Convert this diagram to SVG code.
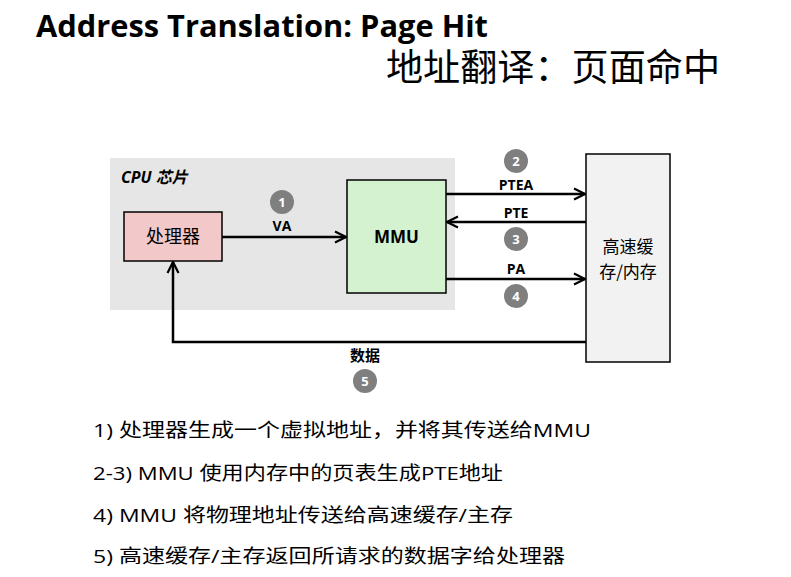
<svg xmlns="http://www.w3.org/2000/svg" width="791" height="577" viewBox="0 0 791 577">
<style>
.t{font-family:"Open Sans","Noto Sans CJK SC",sans-serif;}
.cj{font-family:"Noto Sans CJK SC",sans-serif;}
.box{stroke:#000;stroke-width:1.5;}
.ln{stroke:#000;stroke-width:2.5;fill:none;}
.num{fill:#7f7f7f;}
.nt{font-family:"Open Sans",sans-serif;font-weight:bold;font-size:13px;fill:#fff;text-anchor:middle;}
.lbl{font-family:"Open Sans",sans-serif;font-weight:bold;font-size:14px;fill:#000;text-anchor:middle;}
.b{font-family:"Open Sans","Noto Sans CJK SC",sans-serif;font-size:19px;fill:#000;}
</style>
<defs>
<marker id="ah" viewBox="0 0 10 10" refX="9" refY="5" markerWidth="5.5" markerHeight="5.5" orient="auto" markerUnits="strokeWidth">
<path d="M1,1 L9,5 L1,9" fill="none" stroke="#000" stroke-width="1.6"/>
</marker>
</defs>
<rect width="791" height="577" fill="#fff"/>
<text class="t" x="36" y="37" font-size="31" font-weight="bold" textLength="452" lengthAdjust="spacingAndGlyphs">Address Translation: Page Hit</text>
<text class="cj" x="386" y="81" font-size="37" textLength="334" lengthAdjust="spacingAndGlyphs">地址翻译：页面命中</text>
<g id="cpu-chip">
<rect x="110" y="158" width="345" height="152" fill="#e6e6e6"/>
<text class="t" x="121" y="183" font-size="16" font-weight="bold" font-style="italic">CPU 芯片</text>
</g>
<g id="processor">
<rect class="box" x="124" y="212" width="98" height="49" fill="#f2c8c8"/>
<text class="cj" x="173" y="243" font-size="18" text-anchor="middle">处理器</text>
</g>
<g id="mmu">
<rect class="box" x="347" y="180" width="99" height="113" fill="#d5f2d0"/>
<text class="lbl" x="396.5" y="243" style="font-size:17px">MMU</text>
</g>
<g id="memory">
<rect class="box" x="586" y="154" width="84" height="208" fill="#f2f2f2"/>
<text class="cj" x="628" y="253" font-size="17" text-anchor="middle">高速缓</text>
<text class="cj" x="628" y="278" font-size="17" text-anchor="middle">存/内存</text>
</g>
<g id="connectors">
<line class="ln" x1="222" y1="237" x2="346" y2="237" marker-end="url(#ah)"/>
<line class="ln" x1="446" y1="194" x2="585" y2="194" marker-end="url(#ah)"/>
<line class="ln" x1="586" y1="222" x2="447" y2="222" marker-end="url(#ah)"/>
<line class="ln" x1="446" y1="279" x2="585" y2="279" marker-end="url(#ah)"/>
<polyline class="ln" points="586,342 173,342 173,262" marker-end="url(#ah)"/>
</g>
<g id="labels">
<circle class="num" cx="282" cy="202" r="12"/><text class="nt" x="282" y="207">1</text>
<text class="lbl" x="282" y="231">VA</text>
<circle class="num" cx="516" cy="161" r="12"/><text class="nt" x="516" y="166">2</text>
<text class="lbl" x="516" y="190">PTEA</text>
<text class="lbl" x="516" y="218">PTE</text>
<circle class="num" cx="516" cy="239" r="12"/><text class="nt" x="516" y="244">3</text>
<text class="lbl" x="516" y="274">PA</text>
<circle class="num" cx="516" cy="296" r="12"/><text class="nt" x="516" y="301">4</text>
<text class="cj" x="365" y="361" font-size="15" font-weight="bold" text-anchor="middle">数据</text>
<circle class="num" cx="365" cy="381" r="12"/><text class="nt" x="365" y="386">5</text>
</g>
<g id="notes">
<text class="b" x="93" y="437" textLength="498" lengthAdjust="spacingAndGlyphs">1) 处理器生成一个虚拟地址，并将其传送给MMU</text>
<text class="b" x="93" y="480" textLength="410" lengthAdjust="spacingAndGlyphs">2-3) MMU 使用内存中的页表生成PTE地址</text>
<text class="b" x="93" y="522" textLength="420" lengthAdjust="spacingAndGlyphs">4) MMU 将物理地址传送给高速缓存/主存</text>
<text class="b" x="93" y="563" textLength="472" lengthAdjust="spacingAndGlyphs">5) 高速缓存/主存返回所请求的数据字给处理器</text>
</g>
</svg>
